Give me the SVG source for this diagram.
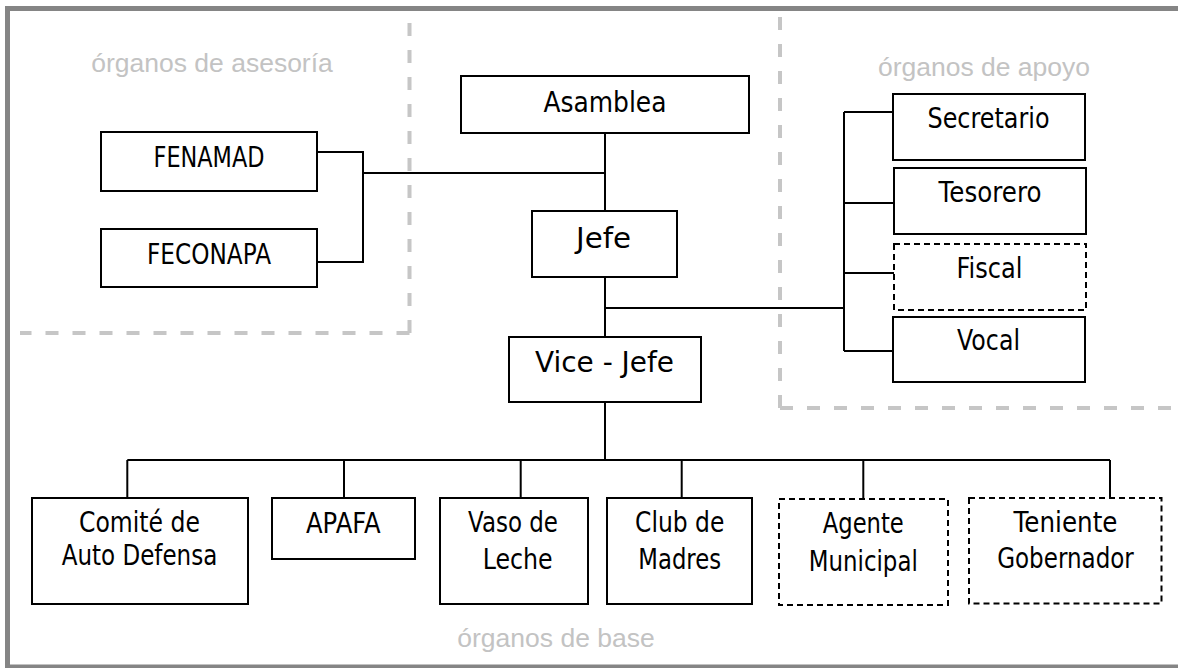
<svg xmlns="http://www.w3.org/2000/svg" width="1178" height="668" viewBox="0 0 1178 668">
<style>
.frame{fill:none;stroke:#858585;stroke-width:5}
.region{fill:none;stroke:#c6c6c6;stroke-width:4;stroke-dasharray:13 14}
.box{fill:#fff;stroke:#000;stroke-width:2}
.dbox{fill:#fff;stroke:#000;stroke-width:2;stroke-dasharray:6 4}
.conn{fill:none;stroke:#000;stroke-width:2}
.t{font-family:"DejaVu Sans",Verdana,sans-serif;font-size:28px;fill:#000;text-anchor:middle}
.lbl{font-family:"Liberation Sans",Arial,sans-serif;font-size:26.5px;fill:#c3c3c3;text-anchor:middle}
</style>
<rect x="0" y="0" width="1178" height="668" fill="#fff"/>
<rect class="frame" x="7.5" y="8.5" width="1180" height="658.5"/>
<g id="regions">
<path class="region" d="M409.5 333 V11"/>
<path class="region" d="M409.5 333 H20"/>
<path class="region" d="M780 408 V11"/>
<path class="region" d="M780 408 H1178"/>
<text class="lbl" x="212" y="72">órganos de asesoría</text>
<text class="lbl" x="984" y="76">órganos de apoyo</text>
<text class="lbl" x="556" y="647">órganos de base</text>
</g>
<g id="connectors">
<path class="conn" d="M605 133 V211"/>
<path class="conn" d="M363 173 H605"/>
<path class="conn" d="M317 152 H363 V262 H317"/>
<path class="conn" d="M605 277 V337"/>
<path class="conn" d="M605 308 H844"/>
<path class="conn" d="M844 112 V351"/>
<path class="conn" d="M844 112 H893 M844 203 H894 M844 273 H894 M844 351 H893"/>
<path class="conn" d="M605 402 V460"/>
<path class="conn" d="M127.3 460 H1110"/>
<path class="conn" d="M127.3 460 V498 M344 460 V498 M520.7 460 V498 M681.7 460 V498 M863.3 460 V499 M1110 460 V498"/>
</g>
<g id="asamblea"><rect class="box" x="461" y="76" width="288" height="57"/><text class="t" x="605" y="111.5" textLength="123" lengthAdjust="spacingAndGlyphs">Asamblea</text></g>
<g id="jefe"><rect class="box" x="532" y="211" width="145" height="66"/><text class="t" x="603.5" y="247.5" textLength="55" lengthAdjust="spacingAndGlyphs">Jefe</text></g>
<g id="fenamad"><rect class="box" x="101" y="132" width="216" height="59"/><text class="t" x="209" y="166.5" textLength="111" lengthAdjust="spacingAndGlyphs">FENAMAD</text></g>
<g id="feconapa"><rect class="box" x="101" y="229" width="216" height="58"/><text class="t" x="209" y="263.5" textLength="124" lengthAdjust="spacingAndGlyphs">FECONAPA</text></g>
<g id="secretario"><rect class="box" x="893" y="94" width="192" height="66"/><text class="t" x="988.5" y="127.7" textLength="122" lengthAdjust="spacingAndGlyphs">Secretario</text></g>
<g id="tesorero"><rect class="box" x="894" y="168" width="192" height="66"/><text class="t" x="990" y="202.3" textLength="103" lengthAdjust="spacingAndGlyphs">Tesorero</text></g>
<g id="fiscal"><rect class="dbox" x="894" y="244" width="192" height="66"/><text class="t" x="989.5" y="278.3" textLength="66" lengthAdjust="spacingAndGlyphs">Fiscal</text></g>
<g id="vocal"><rect class="box" x="893" y="317" width="192" height="65"/><text class="t" x="988.5" y="350" textLength="63" lengthAdjust="spacingAndGlyphs">Vocal</text></g>
<g id="vicejefe"><rect class="box" x="509" y="337" width="192" height="65"/><text class="t" x="604.5" y="372.3" textLength="139" lengthAdjust="spacingAndGlyphs">Vice - Jefe</text></g>
<g id="comite"><rect class="box" x="32" y="498" width="216" height="106"/><text class="t" x="139.5" y="531.7" textLength="121" lengthAdjust="spacingAndGlyphs">Comité de</text><text class="t" x="139.5" y="565" textLength="155.6" lengthAdjust="spacingAndGlyphs">Auto Defensa</text></g>
<g id="apafa"><rect class="box" x="272" y="498" width="143" height="61"/><text class="t" x="343.3" y="532.7" textLength="74.7" lengthAdjust="spacingAndGlyphs">APAFA</text></g>
<g id="vaso"><rect class="box" x="440" y="498" width="148" height="106"/><text class="t" x="513" y="532" textLength="90" lengthAdjust="spacingAndGlyphs">Vaso de</text><text class="t" x="517.7" y="569.3" textLength="70" lengthAdjust="spacingAndGlyphs">Leche</text></g>
<g id="club"><rect class="box" x="607" y="498" width="145" height="106"/><text class="t" x="679.7" y="531.7" textLength="89.3" lengthAdjust="spacingAndGlyphs">Club de</text><text class="t" x="679.7" y="569.3" textLength="82.7" lengthAdjust="spacingAndGlyphs">Madres</text></g>
<g id="agente"><rect class="dbox" x="779" y="499" width="169" height="106"/><text class="t" x="863.3" y="533.3" textLength="81" lengthAdjust="spacingAndGlyphs">Agente</text><text class="t" x="863.3" y="571" textLength="109" lengthAdjust="spacingAndGlyphs">Municipal</text></g>
<g id="teniente"><rect class="dbox" x="969" y="498" width="192.5" height="105.5"/><text class="t" x="1065.5" y="531.7" textLength="104" lengthAdjust="spacingAndGlyphs">Teniente</text><text class="t" x="1065.5" y="568.3" textLength="136.7" lengthAdjust="spacingAndGlyphs">Gobernador</text></g>
</svg>
